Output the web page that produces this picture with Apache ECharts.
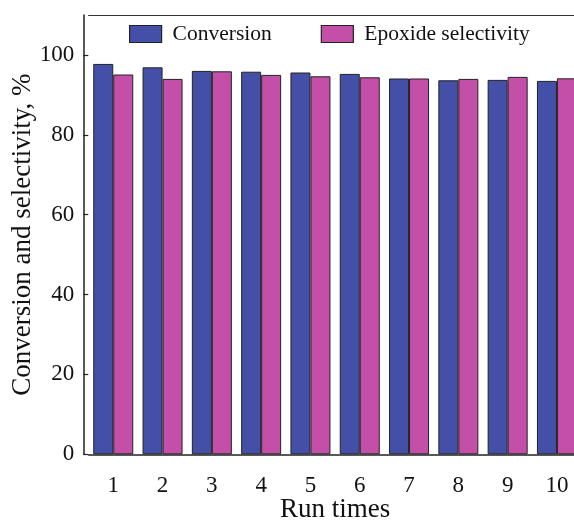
<!DOCTYPE html>
<html>
<head>
<meta charset="utf-8">
<script src="https://cdn.jsdelivr.net/npm/echarts@6/dist/echarts.min.js"></script>
<style>html,body{margin:0;padding:0;background:#fff}#c{width:574px;height:521px}</style>
</head>
<body>
<div id="c"></div>
<script>
var categories = ['1','2','3','4','5','6','7','8','9','10'];
var conversion = [97.75, 96.9, 96.0, 95.8, 95.6, 95.25, 94.1, 93.65, 93.75, 93.5];
var selectivity = [95.1, 94.0, 95.9, 95.0, 94.65, 94.4, 94.1, 94.0, 94.5, 94.15];
var yTicks = [0, 20, 40, 60, 80, 100];

var font = 'Liberation Serif';
var chart = echarts.init(document.getElementById('c'), null, {renderer: 'canvas'});
chart.setOption({
  animation: false,
  backgroundColor: '#fff',
  textStyle: {fontFamily: font, color: '#111'},
  grid: {left: 88.6, top: 15, width: 493, height: 439.3, outerBoundsMode: 'none', containLabel: false},
  legend: {
    left: 129, top: 23, padding: 0,
    itemWidth: 32, itemHeight: 17, itemGap: 49, icon: 'rect',
    textStyle: {fontFamily: font, fontSize: 21.5, color: '#111', padding: [0,0,0,6]},
    data: [
      {name: 'Conversion', itemStyle: {color: '#4450A8', borderColor: '#222', borderWidth: 1.2}},
      {name: 'Epoxide selectivity', itemStyle: {color: '#C44FA8', borderColor: '#222', borderWidth: 1.2}}
    ]
  },
  xAxis: [{
    type: 'category', data: categories, position: 'bottom',
    name: 'Run times', nameLocation: 'middle', nameGap: 42, nameMoveOverlap: false,
    nameTextStyle: {fontFamily: font, fontSize: 27, color: '#111'},
    axisLine: {lineStyle: {color: '#222', width: 1.5}},
    axisTick: {alignWithLabel: true, length: 10, lineStyle: {color: '#222', width: 1.2}},
    axisLabel: {fontFamily: font, fontSize: 23, color: '#111', margin: 20}
  }, {
    type: 'category', data: categories, position: 'top',
    axisLine: {lineStyle: {color: '#333', width: 1.2}},
    axisTick: {show: false}, axisLabel: {show: false}
  }],
  yAxis: {
    type: 'value', min: 0, max: 110, interval: 20, offset: 5.3,
    name: 'Conversion and selectivity, %', nameLocation: 'middle', nameGap: 47, nameMoveOverlap: false,
    nameTextStyle: {fontFamily: font, fontSize: 27, color: '#111'},
    splitLine: {show: false},
    axisLine: {show: true, lineStyle: {color: '#222', width: 1.5}},
    axisTick: {show: true, inside: true, length: 5, lineStyle: {color: '#222', width: 1.2}},
    axisLabel: {fontFamily: font, fontSize: 23, color: '#111', margin: 9, showMaxLabel: false,
      formatter: function (v) { return yTicks.indexOf(v) >= 0 ? String(v) : ''; }}
  },
  series: [{
    name: 'Conversion', type: 'bar', data: conversion, barWidth: 20, barGap: '0%',
    itemStyle: {color: '#4450A8', borderColor: '#222', borderWidth: 1}
  }, {
    name: 'Epoxide selectivity', type: 'bar', data: selectivity, barWidth: 20, barGap: '0%',
    itemStyle: {color: '#C44FA8', borderColor: '#222', borderWidth: 1}
  }]
});
</script>
</body>
</html>
